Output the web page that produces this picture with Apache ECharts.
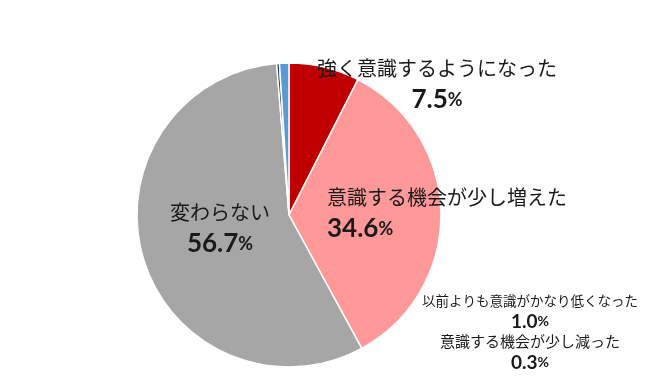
<!DOCTYPE html>
<html><head><meta charset="utf-8">
<script src="https://cdn.jsdelivr.net/npm/echarts@6/dist/echarts.min.js"></script>
<style>html,body{margin:0;padding:0;background:#fff}#c{width:650px;height:388px}</style>
</head><body><div id="c"></div>
<script>
const categories = ['強く意識するようになった','意識する機会が少し増えた','変わらない','意識する機会が少し減った','以前よりも意識がかなり低くなった'];
const values = [7.5, 34.6, 56.7, 0.3, 1.0];
const palette = ['#C00000','#FF9999','#A6A6A6','#1F3864','#5B9BD5'];
const labelSpots = [
  {x:437, y:84, align:'center', size:'n'},
  {x:327, y:213, align:'left', size:'n'},
  {x:220, y:228, align:'center', size:'n'},
  {x:530, y:352, align:'center', size:'s'},
  {x:530, y:311, align:'center', size:'t'}
];
const chart = echarts.init(document.getElementById('c'), null, {renderer:'canvas'});
const font = '"Noto Sans CJK JP","Noto Sans",sans-serif';
const numFont = 'Lato,"Noto Sans CJK JP",sans-serif';
chart.setOption({
  animation:false,
  series:[{
    type:'pie',
    center:[289,215],
    radius:[0,152],
    startAngle:90,
    clockwise:true,
    silent:true,
    itemStyle:{borderColor:'#fff',borderWidth:1.5},
    data: categories.map((n,i)=>({name:n,value:values[i],itemStyle:{color:palette[i]}})),
    labelLine:{show:false},
    label:{
      show:true,
      position:'outside',
      overflow:'none',
      width:400,
      edgeDistance:0,
      color:'#1a1a1a',
      fontFamily:font,
      formatter:p=>{
        const s = labelSpots[p.dataIndex].size;
        const v = values[p.dataIndex].toFixed(1);
        return s==='n' ? `{n|${p.name}}\n{v|${v}}{p|%}` : `{${s}|${p.name}}\n{sv|${v}}{sp|%}`;
      },
      rich:{
        n:{fontSize:20,lineHeight:32,fontFamily:font,color:'#1a1a1a'},
        v:{fontSize:26,lineHeight:32,fontWeight:'bold',fontFamily:numFont,color:'#1a1a1a'},
        p:{fontSize:18,lineHeight:32,fontWeight:'bold',fontFamily:numFont,color:'#1a1a1a'},
        s:{fontSize:15,lineHeight:21,fontFamily:font,color:'#1a1a1a'},
        t:{fontSize:13.5,lineHeight:21,fontFamily:font,color:'#1a1a1a'},
        sv:{fontSize:19,lineHeight:21,fontWeight:'bold',fontFamily:numFont,color:'#1a1a1a'},
        sp:{fontSize:14,lineHeight:21,fontWeight:'bold',fontFamily:numFont,color:'#1a1a1a'}
      }
    },
    labelLayout:function(params){
      const s = labelSpots[params.dataIndex];
      return {x:s.x, y:s.y, align:s.align, verticalAlign:'middle', hideOverlap:false, moveOverlap:null};
    }
  }]
});
</script></body></html>
